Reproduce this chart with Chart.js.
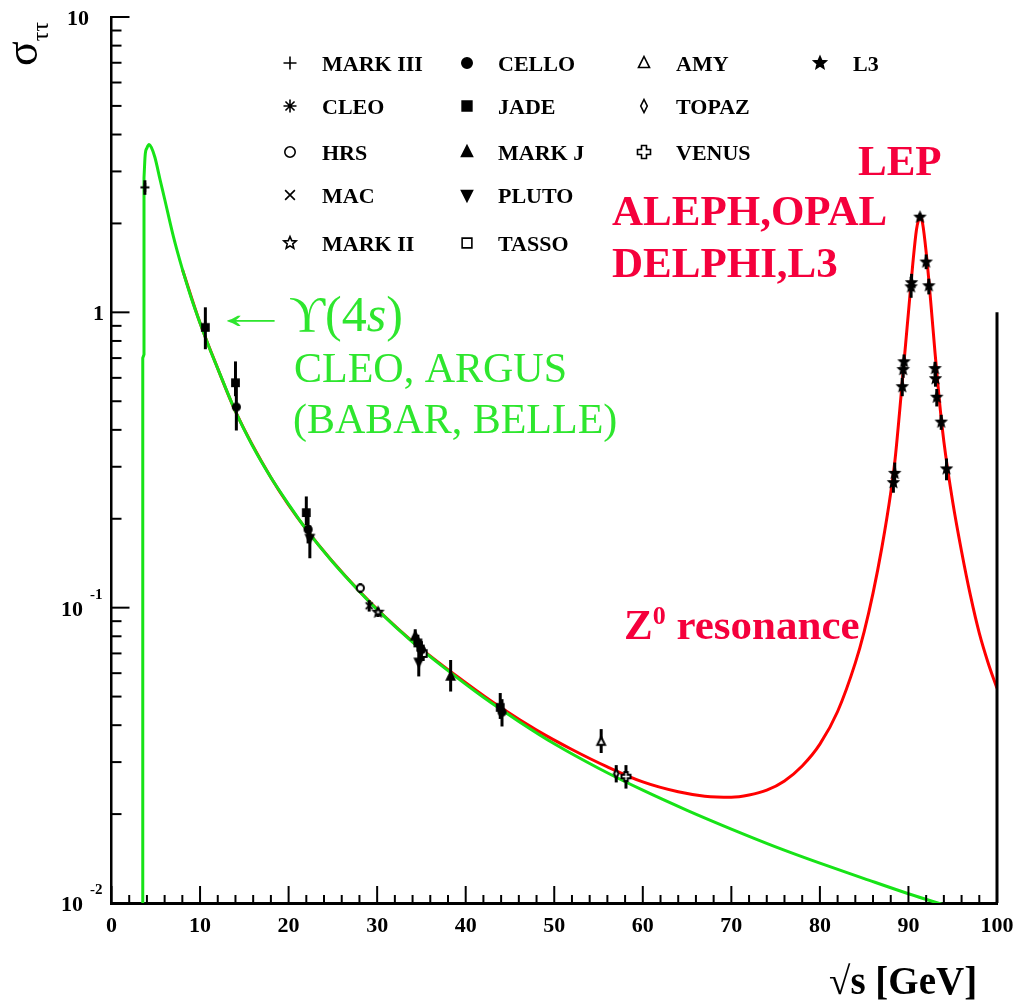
<!DOCTYPE html>
<html>
<head>
<meta charset="utf-8">
<script src="https://cdn.jsdelivr.net/npm/chart.js@4.4.1/dist/chart.umd.min.js"></script>
<style>
  body { margin: 0; background: #fff; }
  canvas { display: block; }
</style>
</head>
<body>
<canvas id="tau_chart" width="1030" height="1006"></canvas>
<script>
// --- curves (sqrt(s) in GeV, sigma in nb) ---
// QED (green), threshold step drawn separately
const qedEdgeX = [3.53, 3.53, 3.67, 3.67];
const qedEdgeY = [0.005, 0.70, 0.72, 2.85];
const qedX = [3.67, 3.8, 4.0, 4.25, 4.5, 4.9, 5.5, 6, 7, 8, 9, 10, 11, 12, 14, 16, 18, 20, 22, 25,
              28, 30, 34, 38, 42, 46, 50, 55, 60, 65, 70, 75, 80, 85, 90, 95, 100];
const qedY = [2.85, 3.4, 3.6, 3.7, 3.62, 3.35, 2.8, 2.42, 1.8, 1.4, 1.12, 0.92, 0.765, 0.645, 0.462, 0.35, 0.276, 0.224, 0.184, 0.1425,
              0.1135, 0.0985, 0.0765, 0.0612, 0.0497, 0.0412, 0.0346, 0.0286, 0.0241, 0.0206, 0.0178, 0.0155, 0.01365, 0.0121, 0.01075, 0.00965, 0.0087];
// QED + Z0 (red)
const zX = [8, 10, 12, 14, 18, 22, 28, 34, 40, 44, 48, 52, 56, 60, 64, 67, 70, 72, 74, 76,
            78, 80, 82, 84, 85, 86, 87, 88, 88.5, 89, 89.5, 90, 90.5, 90.9, 91.15, 91.35, 91.6, 92, 92.5, 93,
            93.5, 94, 95, 96, 97, 98, 99, 100];
const zY = [1.4, 0.92, 0.645, 0.462, 0.276, 0.184, 0.1137, 0.0768, 0.0557, 0.0458, 0.0385, 0.0331, 0.0289, 0.0257, 0.0238, 0.023, 0.0228, 0.0232, 0.0241, 0.0259,
            0.0291, 0.0345, 0.0445, 0.065, 0.083, 0.112, 0.16, 0.245, 0.32, 0.46, 0.68, 1.0, 1.47, 1.9, 2.06, 2.11, 2.0, 1.6, 1.1, 0.73,
            0.5, 0.365, 0.228, 0.155, 0.11, 0.082, 0.065, 0.0533];

// --- measurements: [sqrt(s), sigma, low end of error, high end of error] ---
const markIIIPts = [[3.77, 2.65, 2.5, 2.8]];
const ups4sPts = [[10.6, 0.89, 0.75, 1.04]];
const hrsPts = [[28.1, 0.1166, 0.112, 0.121]];
const macPts = [[29.1, 0.1015, 0.097, 0.106]];
const markIIPts = [[30.1, 0.0965, 0.093, 0.1]];
const celloPts = [[14.1, 0.478, 0.398, 0.56], [22.2, 0.184, 0.165, 0.205], [35.0, 0.072, 0.067, 0.077], [44.1, 0.0443, 0.0396, 0.049]];
const jadePts = [[14.0, 0.578, 0.52, 0.682], [22.0, 0.21, 0.19, 0.238], [34.6, 0.076, 0.071, 0.081], [43.9, 0.046, 0.042, 0.0514]];
const markJPts = [[34.3, 0.08, 0.075, 0.0845], [38.3, 0.0585, 0.052, 0.0665]];
const plutoPts = [[22.4, 0.172, 0.147, 0.19], [34.7, 0.0655, 0.0585, 0.072]];
const tassoPts = [[35.2, 0.07, 0.066, 0.075]];
const amyPts = [[55.3, 0.0352, 0.0322, 0.0388]];
const topazPts = [[57.0, 0.0274, 0.0256, 0.0293]];
const venusPts = [[58.1, 0.0268, 0.0244, 0.0293]];
const l3Pts = [[88.3, 0.265, 0.245, 0.29], [88.45, 0.285, 0.26, 0.31], [89.3, 0.56, 0.52, 0.6], [89.4, 0.64, 0.6, 0.68],
               [89.5, 0.68, 0.64, 0.72], [90.3, 1.22, 1.12, 1.32], [90.35, 1.26, 1.18, 1.35], [91.3, 2.1, 2.05, 2.16],
               [92.0, 1.48, 1.4, 1.57], [92.3, 1.23, 1.15, 1.3], [93.0, 0.645, 0.61, 0.68], [93.05, 0.596, 0.56, 0.63],
               [93.2, 0.516, 0.48, 0.55], [93.7, 0.425, 0.4, 0.45], [94.3, 0.295, 0.27, 0.32]];

// --- axis ticks ---
const xTickValues = [0, 10, 20, 30, 40, 50, 60, 70, 80, 90, 100];
const xTickLabels = ['0', '10', '20', '30', '40', '50', '60', '70', '80', '90', '100'];
const yMajorTicks = [0.01, 0.1, 1, 10];
const yTickLabels = [['10', '-2'], ['10', '-1'], ['1', ''], ['10', '']];

// --- legend ---
const legendOrder = ['MARK III', 'CLEO', 'HRS', 'MAC', 'MARK II', 'CELLO', 'JADE', 'MARK J', 'PLUTO', 'TASSO', 'AMY', 'TOPAZ', 'VENUS', 'L3'];
const legendColumnSizes = [5, 5, 3, 1];
const markerStyles = {
  'MARK III': 'plus', 'CLEO': 'asterisk', 'HRS': 'circleOpen', 'MAC': 'x', 'MARK II': 'starOpen',
  'CELLO': 'circle', 'JADE': 'square', 'MARK J': 'triangle', 'PLUTO': 'triangleDown', 'TASSO': 'squareOpen',
  'AMY': 'triangleOpen', 'TOPAZ': 'diamondOpen', 'VENUS': 'crossOpen', 'L3': 'star',
  'CLEO, ARGUS': 'square'
};
const pointSets = [
  ['MARK III', markIIIPts], ['CLEO, ARGUS', ups4sPts], ['HRS', hrsPts], ['MAC', macPts], ['MARK II', markIIPts],
  ['CELLO', celloPts], ['JADE', jadePts], ['MARK J', markJPts], ['PLUTO', plutoPts], ['TASSO', tassoPts],
  ['AMY', amyPts], ['TOPAZ', topazPts], ['VENUS', venusPts], ['L3', l3Pts]
];

// layout
const legendColX = [290, 467, 644, 820];
const legendTextX = [322, 498, 676, 853];
const legendRowY = [63, 106, 152, 195, 243];
const yLabelRight = [83, 83, 104, 89];
const SERIF = '"Liberation Serif", "Times New Roman", serif';
const GREEN_TXT = '#2ee62e';
const RED_TXT = '#f5003c';

function shapePath(c, style, r) {
  if (style === 'circle' || style === 'circleOpen') {
    c.arc(0, 0, r * 0.8, 0, Math.PI * 2);
  } else if (style === 'square' || style === 'squareOpen') {
    c.rect(-r * 0.75, -r * 0.75, r * 1.5, r * 1.5);
  } else if (style === 'triangle' || style === 'triangleOpen') {
    c.moveTo(0, -r); c.lineTo(r * 0.85, r * 0.7); c.lineTo(-r * 0.85, r * 0.7); c.closePath();
  } else if (style === 'triangleDown') {
    c.moveTo(0, r); c.lineTo(r * 0.85, -r * 0.7); c.lineTo(-r * 0.85, -r * 0.7); c.closePath();
  } else if (style === 'diamondOpen') {
    c.moveTo(0, -r); c.lineTo(r * 0.5, 0); c.lineTo(0, r); c.lineTo(-r * 0.5, 0); c.closePath();
  } else if (style === 'crossOpen') {
    const w = r * 0.38;
    const pts = [[-w, -r], [w, -r], [w, -w], [r, -w], [r, w], [w, w], [w, r], [-w, r], [-w, w], [-r, w], [-r, -w], [-w, -w]];
    pts.forEach((p, i) => i ? c.lineTo(p[0], p[1]) : c.moveTo(p[0], p[1]));
    c.closePath();
  } else if (style === 'star' || style === 'starOpen') {
    for (let k = 0; k < 10; k++) {
      const a = -Math.PI / 2 + k * Math.PI / 5;
      const rr = k % 2 ? r * 0.45 : r;
      k ? c.lineTo(rr * Math.cos(a), rr * Math.sin(a)) : c.moveTo(rr * Math.cos(a), rr * Math.sin(a));
    }
    c.closePath();
  }
}

function drawMarker(c, style, x, y, r, lw) {
  c.save();
  c.translate(x, y);
  c.strokeStyle = '#000';
  c.fillStyle = '#000';
  c.lineWidth = lw;
  c.beginPath();
  if (style === 'plus') {
    c.moveTo(-r, 0); c.lineTo(r, 0); c.moveTo(0, -r); c.lineTo(0, r);
    c.stroke();
  } else if (style === 'x') {
    const d = r * 0.75;
    c.moveTo(-d, -d); c.lineTo(d, d); c.moveTo(-d, d); c.lineTo(d, -d);
    c.stroke();
  } else if (style === 'asterisk') {
    const d = r * 0.7;
    c.moveTo(0, -r); c.lineTo(0, r); c.moveTo(-r, 0); c.lineTo(r, 0);
    c.moveTo(-d, -d); c.lineTo(d, d); c.moveTo(-d, d); c.lineTo(d, -d);
    c.stroke();
  } else {
    shapePath(c, style, r);
    if (style.endsWith('Open')) c.fillStyle = '#fff';
    c.fill();
    c.stroke();
  }
  c.restore();
}

function markerCanvas(style, r, lw) {
  const size = Math.ceil(2 * r + 2 * lw + 2);
  const cv = document.createElement('canvas');
  cv.width = size;
  cv.height = size;
  drawMarker(cv.getContext('2d'), style, size / 2, size / 2, r, lw);
  return cv;
}

function toXY(xs, ys) {
  return xs.map((x, i) => ({ x: x, y: ys[i] }));
}

const markerSets = pointSets.map(([label, pts]) => ({
  label: label,
  data: pts.map(p => ({ x: p[0], y: p[1], lo: p[2], hi: p[3] })),
  showLine: false,
  pointStyle: markerCanvas(markerStyles[label], 4.5, 2),
  pointRadius: 5,
  errorBars: true,
  order: 0
}));

const curveSets = [
  {
    label: 'QED threshold',
    data: toXY(qedEdgeX, qedEdgeY),
    borderColor: '#17e317',
    borderWidth: 3,
    pointRadius: 0,
    tension: 0,
    order: 1
  },
  {
    label: 'QED',
    data: toXY(qedX, qedY),
    borderColor: '#17e317',
    borderWidth: 3,
    pointRadius: 0,
    cubicInterpolationMode: 'monotone',
    order: 1
  },
  {
    label: 'QED + Z0',
    data: toXY(zX, zY),
    borderColor: '#ff0000',
    borderWidth: 3,
    pointRadius: 0,
    cubicInterpolationMode: 'monotone',
    order: 2
  }
];

function drawRuns(c, x, y, runs) {
  runs.forEach(r => {
    c.font = r.font;
    c.fillText(r.t, x, y + (r.dy || 0));
    x += c.measureText(r.t).width;
  });
}

const decor = {
  id: 'decor',
  beforeDatasetDraw(chart, args) {
    const ds = chart.data.datasets[args.index];
    if (!ds.errorBars) return;
    const c = chart.ctx, xs = chart.scales.x, ys = chart.scales.y;
    c.save();
    c.strokeStyle = '#000';
    c.lineWidth = 3;
    ds.data.forEach(p => {
      const px = xs.getPixelForValue(p.x);
      c.beginPath();
      c.moveTo(px, ys.getPixelForValue(p.lo));
      c.lineTo(px, ys.getPixelForValue(p.hi));
      c.stroke();
    });
    c.restore();
  },
  afterDraw(chart) {
    const c = chart.ctx, xs = chart.scales.x, ys = chart.scales.y, a = chart.chartArea;
    c.save();
    c.strokeStyle = '#000';
    c.fillStyle = '#000';
    c.lineWidth = 2;

    // inward tick marks on x
    for (let v = xs.min; v <= xs.max; v += 2) {
      const px = xs.getPixelForValue(v);
      const len = v % 10 === 0 ? 17 : 8;
      c.beginPath(); c.moveTo(px, a.bottom); c.lineTo(px, a.bottom - len); c.stroke();
    }
    // inward tick marks on y (log)
    yMajorTicks.forEach((d, i) => {
      const py = ys.getPixelForValue(d);
      c.beginPath(); c.moveTo(a.left, py); c.lineTo(a.left + 18, py); c.stroke();
      if (i < yMajorTicks.length - 1) {
        for (let k = 2; k < 10; k++) {
          const pm = ys.getPixelForValue(k * d);
          c.beginPath(); c.moveTo(a.left, pm); c.lineTo(a.left + 10, pm); c.stroke();
        }
      }
    });

    // right edge line from 1 down to the axis
    c.lineWidth = 3;
    const rx = xs.getPixelForValue(xs.max);
    c.beginPath(); c.moveTo(rx, ys.getPixelForValue(1)); c.lineTo(rx, a.bottom); c.stroke();

    // tick labels
    c.font = 'bold 22px ' + SERIF;
    c.textAlign = 'center';
    c.textBaseline = 'alphabetic';
    xTickValues.forEach((v, i) => c.fillText(xTickLabels[i], xs.getPixelForValue(v), 932));
    yMajorTicks.forEach((v, i) => {
      const py = ys.getPixelForValue(v);
      const [base, exp] = yTickLabels[i];
      c.textAlign = 'right';
      c.font = 'bold 22px ' + SERIF;
      c.fillText(base, yLabelRight[i], py + 8);
      if (exp) {
        c.textAlign = 'left';
        c.font = 'bold 15px ' + SERIF;
        c.fillText(exp, 90, py - 9);
      }
    });

    // axis titles
    c.textAlign = 'left';
    c.font = 'bold 39px ' + SERIF;
    c.fillText('\u221As [GeV]', 829, 994);
    c.save();
    c.translate(37, 66);
    c.rotate(-Math.PI / 2);
    c.font = '46px ' + SERIF;
    c.fillText('\u03C3', 0, 0);
    const sw = c.measureText('\u03C3').width;
    c.font = '24px ' + SERIF;
    c.fillText('\u03C4\u03C4', sw, 11);
    c.restore();

    // legend
    let idx = 0;
    legendColumnSizes.forEach((n, col) => {
      for (let row = 0; row < n; row++, idx++) {
        const label = legendOrder[idx];
        const y = legendRowY[row];
        drawMarker(c, markerStyles[label], legendColX[col], y, 6.5, 1.6);
        c.fillStyle = '#000';
        c.font = 'bold 22px ' + SERIF;
        c.textAlign = 'left';
        c.fillText(label, legendTextX[col], y + 7.5);
      }
    });

    // annotations
    c.fillStyle = GREEN_TXT;
    c.textAlign = 'center';
    c.font = '44px ' + SERIF;
    const aw = c.measureText('\u2190').width;
    c.save();
    c.translate(251, 328);
    c.scale(1.7 * 47 / aw, 1);
    c.fillText('\u2190', 0, 0);
    c.restore();
    c.textAlign = 'left';
    drawRuns(c, 289, 331, [
      { t: '\u03D2(4', font: '50px ' + SERIF },
      { t: 's', font: 'italic 50px ' + SERIF },
      { t: ')', font: '50px ' + SERIF }
    ]);
    c.font = '42px ' + SERIF;
    c.fillText('CLEO, ARGUS', 294, 382);
    c.fillText('(BABAR, BELLE)', 293, 433);

    c.fillStyle = RED_TXT;
    c.font = 'bold 43px ' + SERIF;
    c.fillText('LEP', 858, 175);
    c.fillText('ALEPH,OPAL', 612, 225);
    c.fillText('DELPHI,L3', 612, 277);
    drawRuns(c, 624, 639, [
      { t: 'Z', font: 'bold 43px ' + SERIF },
      { t: '0', font: 'bold 26px ' + SERIF, dy: -15 },
      { t: ' resonance', font: 'bold 43px ' + SERIF }
    ]);
    c.restore();
  }
};

const ctx = document.getElementById('tau_chart').getContext('2d');

new Chart(ctx, {
  type: 'line',
  data: { datasets: markerSets.concat(curveSets) },
  options: {
    responsive: false,
    animation: false,
    layout: { padding: { top: 17, right: 33, left: 0, bottom: 0 } },
    plugins: { legend: { display: false }, tooltip: { enabled: false } },
    scales: {
      x: {
        type: 'linear',
        min: 0,
        max: 100,
        grid: { display: false },
        border: { display: true, color: '#000', width: 3 },
        ticks: { display: false, stepSize: 2 },
        afterFit(scale) { scale.height = 103; }
      },
      y: {
        type: 'logarithmic',
        min: 0.01,
        max: 10,
        grid: { display: false },
        border: { display: true, color: '#000', width: 2.5 },
        ticks: { display: false },
        afterFit(scale) { scale.width = 111.5; }
      }
    }
  },
  plugins: [decor]
});
</script>
</body>
</html>
